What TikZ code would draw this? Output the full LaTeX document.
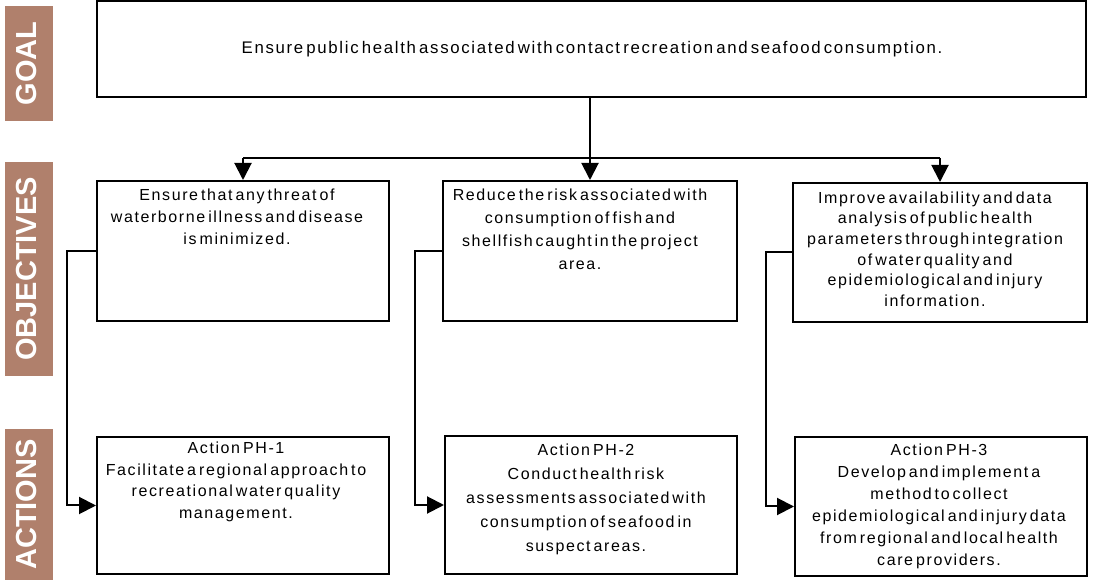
\documentclass[tikz,border=0pt]{standalone}
\usepackage{fontspec}
\setmainfont{Liberation Sans}[LetterSpace=10, WordSpace=0.5]
\newfontfamily\labfont{Liberation Sans}
\usetikzlibrary{arrows.meta}
\definecolor{labbrown}{RGB}{176,128,108}
\begin{document}
\begin{tikzpicture}[x=1pt,y=1pt,
  boxnode/.style={draw, line width=2pt, inner sep=0pt},
  txt/.style={inner sep=0pt, align=center, anchor=north},
  lab/.style={fill=labbrown, text=white, rotate=90, inner sep=0pt,
    font=\labfont\bfseries\fontsize{29}{29}\selectfont, text depth=6pt},
  conn/.style={line width=2pt},
  arr/.style={line width=2pt, -{Triangle[length=17pt,width=17pt]}}
]
\useasboundingbox (0,0) rectangle (1095,581);
% side labels
\node[lab, minimum width=115, minimum height=48] (lgoal) at (29,517.5) {GOAL};
\node[lab, minimum width=214, minimum height=48] (lobj) at (29,312) {OBJECTIVES};
\node[lab, minimum width=151, minimum height=48] (lact) at (29,76.5) {ACTIONS};
% boxes
\node[boxnode, minimum width=989, minimum height=96] (goal) at (591.5,532) {};
\node[boxnode, minimum width=292, minimum height=140] (o1) at (243,330) {};
\node[boxnode, minimum width=294, minimum height=140] (o2) at (590,330) {};
\node[boxnode, minimum width=294, minimum height=139] (o3) at (940,328.5) {};
\node[boxnode, minimum width=292, minimum height=137] (a1) at (243,75.5) {};
\node[boxnode, minimum width=292, minimum height=138] (a2) at (591,76) {};
\node[boxnode, minimum width=292, minimum height=139] (a3) at (941,74.5) {};
% texts
\node[inner sep=0pt, anchor=base, font=\fontsize{16.8}{18}\selectfont] (gt) at (592,527)
  {Ensure public health associated with contact recreation and seafood consumption.};
\node[txt, font=\fontsize{16}{22}\selectfont] (o1t) at ([xshift=-6pt,yshift=-9pt]o1.north)
  {Ensure that any threat of\\waterborne illness and disease\\is minimized.};
\node[txt, font=\fontsize{16}{23}\selectfont] (o2t) at ([xshift=-10pt,yshift=-9pt]o2.north)
  {Reduce the risk associated with\\consumption of fish and\\shellfish caught in the project\\area.};
\node[txt, font=\fontsize{16}{20.6}\selectfont] (o3t) at ([xshift=-5pt,yshift=-9.5pt]o3.north)
  {Improve availability and data\\analysis of public health\\parameters through integration\\of water quality and\\epidemiological and injury\\information.};
\node[txt, font=\fontsize{16}{21.5}\selectfont] (a1t) at ([xshift=-7pt,yshift=-6pt]a1.north)
  {Action PH-1\\Facilitate a regional approach to\\recreational water quality\\management.};
\node[txt, font=\fontsize{16}{24}\selectfont] (a2t) at ([xshift=-5pt,yshift=-9pt]a2.north)
  {Action PH-2\\Conduct health risk\\assessments associated with\\consumption of seafood in\\suspect areas.};
\node[txt, font=\fontsize{16}{22}\selectfont] (a3t) at ([xshift=-2pt,yshift=-8pt]a3.north)
  {Action PH-3\\Develop and implement a\\method to collect\\epidemiological and injury data\\from regional and local health\\care providers.};
% connectors goal -> objectives
\coordinate (bus) at (590,423);
\draw[arr] (o2.north |- goal.south) -- (o2.north);
\draw[conn] (o1.north |- bus) -- (o3.north |- bus);
\draw[arr] (o1.north |- bus) -- (o1.north);
\draw[arr] (o3.north |- bus) -- (o3.north);
% objectives -> actions
\draw[arr] (o1.west) -- ++(-29,0) |- (a1.west);
\draw[arr] (o2.west) -- ++(-27,0) |- (a2.west);
\draw[arr] (o3.west) -- ++(-26,0) |- (a3.west);
\end{tikzpicture}
\end{document}
